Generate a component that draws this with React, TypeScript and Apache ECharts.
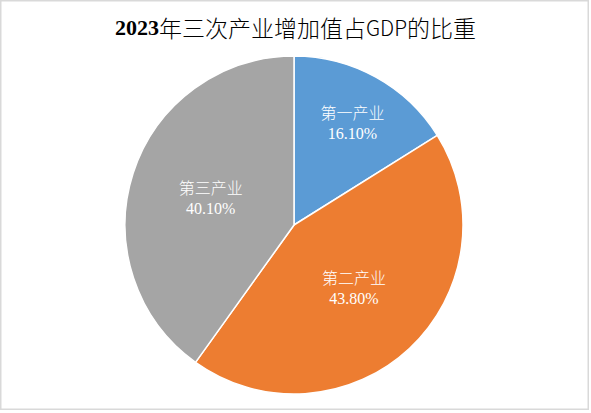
import React, { useEffect, useRef } from "react";
import * as echarts from "echarts";

const titleText = "2023年三次产业增加值占GDP的比重";
const categories = ["第一产业", "第二产业", "第三产业"];
const shares = [16.1, 43.8, 40.1];
const colors = ["#5B9BD5", "#ED7D31", "#A5A5A5"];

export default function App() {
  const ref = useRef<HTMLDivElement>(null);
  useEffect(() => {
    if (!ref.current) return;
    const chart = echarts.init(ref.current, undefined, { renderer: "svg" });
    const data = categories.map((name, i) => ({
      name,
      value: shares[i],
      itemStyle: { color: colors[i] },
    }));
    chart.setOption({
      animation: false,
      backgroundColor: "#ffffff",
      title: {
        left: "center",
        top: 9,
        text: "{a|2023}{b|年三次产业增加值占}{c|GDP}{b|的比重}",
        textStyle: {
          rich: {
            a: {
              fontFamily: "Liberation Serif",
              fontWeight: "bold",
              fontSize: 22,
              color: "#000",
              lineHeight: 26,
            },
            b: {
              fontFamily: "Noto Sans CJK SC",
              fontWeight: 300,
              fontSize: 23,
              color: "#000",
              lineHeight: 26,
            },
            c: {
              fontFamily: "Noto Sans CJK SC",
              fontWeight: 300,
              fontSize: 21,
              color: "#000",
              lineHeight: 26,
            },
          },
        },
      },
      graphic: [
        {
          type: "rect",
          shape: { x: 0.75, y: 0.75, width: 587.5, height: 408.5 },
          style: { fill: "none", stroke: "#d9d9d9", lineWidth: 1.5 },
          silent: true,
        },
      ],
      series: [
        {
          type: "pie",
          center: [294, 225],
          radius: [0, 169],
          startAngle: 90,
          clockwise: true,
          data,
          itemStyle: { borderColor: "#ffffff", borderWidth: 1.5 },
          label: {
            show: true,
            position: "inside",
            color: "#ffffff",
            fontFamily: "Liberation Serif, Noto Sans CJK SC",
            fontWeight: 300,
            fontSize: 16,
            lineHeight: 20,
            formatter: (p: any) => `${p.name}\n${Number(p.value).toFixed(2)}%`,
          },
          labelLayout: (p: any) =>
            p.dataIndex === 0 ? { dx: 16, dy: -25 } : {},
          emphasis: { disabled: true },
        },
      ],
    });
    return () => chart.dispose();
  }, []);
  return (
    <div
      ref={ref}
      style={{ position: "absolute", left: 0, top: 0, width: 591, height: 413 }}
    />
  );
}
